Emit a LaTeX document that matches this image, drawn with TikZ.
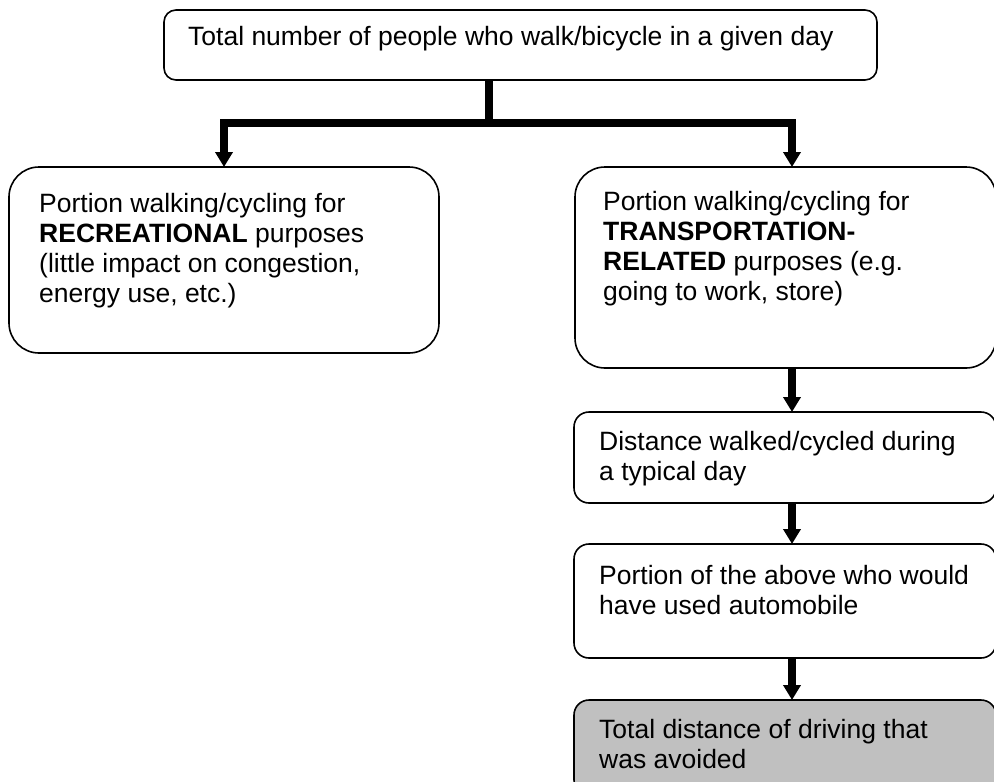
\documentclass[tikz,border=0pt]{standalone}
\usepackage{fontspec}
\setmainfont{Liberation Sans}
\usepackage{tikz}
\usetikzlibrary{arrows.meta, calc, positioning}
\definecolor{avoidgray}{HTML}{C0C0C0}
\tikzset{
	box/.style={draw, line width=1.6pt, rounded corners=#1, inner sep=0pt, outer sep=0pt, anchor=north west},
	txt/.style={font=\fontsize{26.5}{30}\selectfont, align=left, inner sep=0pt, anchor=base west},
	bar/.style={line width=8pt},
	conn/.style={line width=8pt, -{Triangle[width=17pt,length=15pt]}}
}
\begin{document}
\begin{tikzpicture}[x=1pt, y=-1pt]
	    \useasboundingbox (0,0) rectangle (994,782);
	    \clip (0,0) rectangle (994,782);
	    \node[box=12pt, minimum width=713pt, minimum height=70pt] (total) at (164,10) {};
	    \node[box=30pt, minimum width=430pt, minimum height=186pt] (rec) at (9,167) {};
	    \node[box=30pt, minimum width=421pt, minimum height=201pt] (trans) at (575,167) {};
	    \node[box=15pt, minimum width=422pt, minimum height=91pt] (dist) at (574,412) {};
	    \node[box=15pt, minimum width=422pt, minimum height=114pt] (share) at (574,544) {};
	    \node[box=15pt, fill=avoidgray, minimum width=422pt, minimum height=95pt] (avoid) at (574,700) {};
	    \node[txt] (totalT) at (188,45) {Total number of people who walk/bicycle in a given day};
	    \node[txt] (recT) at (39,302) {Portion walking/cycling for\\\textbf{RECREATIONAL} purposes\\(little impact on congestion,\\energy use, etc.)};
	    \node[txt] (transT) at (603,300) {Portion walking/cycling for\\\textbf{TRANSPORTATION-}\\\textbf{RELATED} purposes (e.g.\\going to work, store)};
	    \node[txt] (distT) at (599,480) {Distance walked/cycled during\\a typical day};
	    \node[txt] (shareT) at (599,614) {Portion of the above who would\\have used automobile};
	    \node[txt] (avoidT) at (599,768) {Total distance of driving that\\was avoided};
	    \coordinate (fork) at (489,122.5);
	    \coordinate (rcol) at (792,0);
	    \draw[bar] (fork |- total.south) -- (fork);
	    \draw[conn] (fork) -| (rec.north);
	    \draw[conn] (fork) -| (rcol |- trans.north);
	    \draw[conn] (rcol |- trans.south) -- (rcol |- dist.north);
	    \draw[conn] (rcol |- dist.south) -- (rcol |- share.north);
	    \draw[conn] (rcol |- share.south) -- (rcol |- avoid.north);
	\end{tikzpicture}
\end{document}
